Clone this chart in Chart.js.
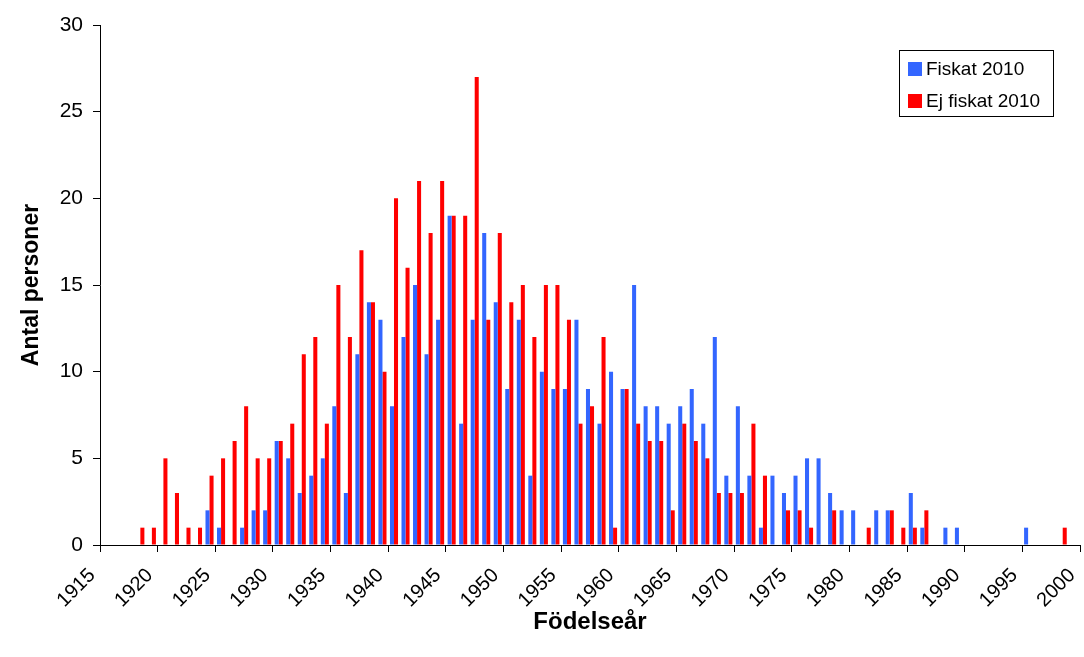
<!DOCTYPE html>
<html>
<head>
<meta charset="utf-8">
<script src="https://cdn.jsdelivr.net/npm/chart.js@4/dist/chart.umd.min.js"></script>
<style>
  html, body { margin: 0; padding: 0; background: #fff; }
  #wrap { width: 1084px; height: 657px; }
</style>
</head>
<body>
<div id="wrap"><canvas id="birthChart"></canvas></div>
<script>
// år 1915-1999, en stapelgrupp per år
const years = [];
for (let y = 1915; y <= 1999; y++) years.push(String(y));

const fiskat = [
  0, 0, 0, 0, 0, 0, 0, 0, 0, 2,
  1, 0, 1, 2, 2, 6, 5, 3, 4, 5,
  8, 3, 11, 14, 13, 8, 12, 15, 11, 13,
  19, 7, 13, 18, 14, 9, 13, 4, 10, 9,
  9, 13, 9, 7, 10, 9, 15, 8, 8, 7,
  8, 9, 7, 12, 4, 8, 4, 1, 4, 3,
  4, 5, 5, 3, 2, 2, 0, 2, 2, 0,
  3, 1, 0, 1, 1, 0, 0, 0, 0, 0,
  1, 0, 0, 0, 0
];

const ejFiskat = [
  0, 0, 0, 1, 1, 5, 3, 1, 1, 4,
  5, 6, 8, 5, 5, 6, 7, 11, 12, 7,
  15, 12, 17, 14, 10, 20, 16, 21, 18, 21,
  19, 19, 27, 13, 18, 14, 15, 12, 15, 15,
  13, 7, 8, 12, 1, 9, 7, 6, 6, 2,
  7, 6, 5, 3, 3, 3, 7, 4, 0, 2,
  2, 1, 0, 2, 0, 0, 1, 0, 2, 1,
  1, 2, 0, 0, 0, 0, 0, 0, 0, 0,
  0, 0, 0, 1, 0
];

const yearTicks = [1915, 1920, 1925, 1930, 1935, 1940, 1945, 1950, 1955,
  1960, 1965, 1970, 1975, 1980, 1985, 1990, 1995, 2000];
const countTicks = [0, 5, 10, 15, 20, 25, 30];

const seriesNames = ['Fiskat 2010', 'Ej fiskat 2010'];
const seriesColors = ['#3366ff', '#ff0000'];

const FONT = 'Arial, "Liberation Sans", sans-serif';

// legend i ruta uppe till höger
const boxLegend = {
  id: 'boxLegend',
  afterDraw(chart) {
    const c = chart.ctx;
    c.save();
    c.strokeStyle = '#000';
    c.lineWidth = 1;
    c.strokeRect(899.5, 50.5, 154, 66);
    c.font = '19px ' + FONT;
    c.textBaseline = 'middle';
    chart.data.datasets.forEach((ds, i) => {
      const yc = 69 + i * 32;
      c.fillStyle = ds.backgroundColor;
      c.fillRect(908, yc - 7, 14, 14);
      c.fillStyle = '#000';
      c.fillText(ds.label, 926, yc + 1);
    });
    c.restore();
  }
};

new Chart(document.getElementById('birthChart'), {
  type: 'bar',
  data: {
    labels: years,
    datasets: [
      { label: seriesNames[0], data: fiskat, backgroundColor: seriesColors[0], borderWidth: 0 },
      { label: seriesNames[1], data: ejFiskat, backgroundColor: seriesColors[1], borderWidth: 0 }
    ]
  },
  options: {
    responsive: true,
    maintainAspectRatio: false,
    animation: false,
    categoryPercentage: 0.7,
    barPercentage: 1.0,
    layout: { padding: { left: 14, top: 25, right: 4, bottom: 16 } },
    plugins: {
      legend: { display: false },
      tooltip: { enabled: false }
    },
    scales: {
      x: {
        type: 'category',
        display: false,
        offset: true
      },
      years: {
        type: 'linear',
        position: 'bottom',
        offset: false,
        min: 1915,
        max: 2000,
        afterBuildTicks: (s) => { s.ticks = yearTicks.map(v => ({ value: v })); },
        afterFit: (s) => {
          s.height = 657 - 545 - 16;
          s.paddingLeft = 0;
          s.paddingRight = 0;
        },
        grid: { offset: false, drawOnChartArea: false, drawTicks: true, tickLength: 7, color: '#000' },
        border: { display: true, color: '#000', width: 1 },
        ticks: {
          autoSkip: false,
          minRotation: 45,
          maxRotation: 45,
          padding: 4,
          color: '#000',
          font: { family: FONT, size: 20 },
          // lite luft mellan etikettens slut och skalstrecket
          callback: (v) => String(v) + '  '
        },
        title: {
          display: true,
          text: 'Födelseår',
          color: '#000',
          padding: { top: 4, bottom: 4 },
          font: { family: FONT, size: 24, weight: 'bold' }
        }
      },
      y: {
        min: 0,
        max: 30,
        afterBuildTicks: (s) => { s.ticks = countTicks.map(v => ({ value: v })); },
        afterFit: (s) => { s.width = 100 - 14; },
        grid: { drawOnChartArea: false, drawTicks: true, tickLength: 7, color: '#000' },
        border: { display: true, color: '#000', width: 1 },
        ticks: {
          padding: 10,
          color: '#000',
          font: { family: FONT, size: 21 }
        },
        title: {
          display: true,
          text: 'Antal personer',
          color: '#000',
          font: { family: FONT, size: 23, weight: 'bold' }
        }
      }
    }
  },
  plugins: [boxLegend]
});
</script>
</body>
</html>
